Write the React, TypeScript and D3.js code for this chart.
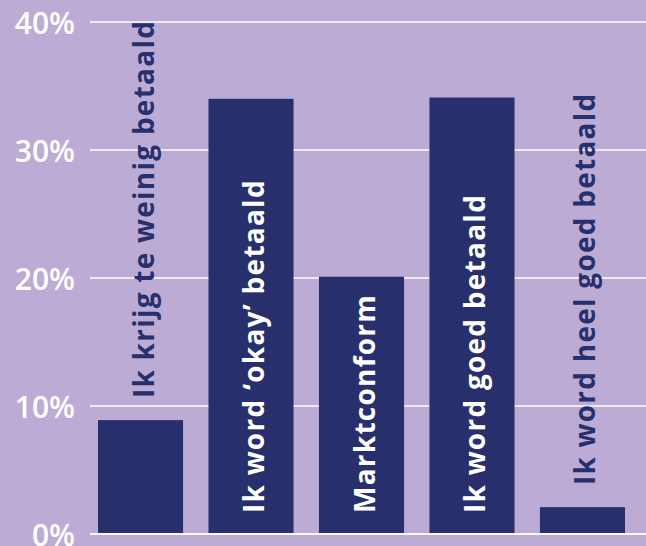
import React from "react";
import * as d3 from "d3";

const categories = [
  "Ik krijg te weinig betaald",
  "Ik word \u2018okay\u2019 betaald",
  "Marktconform",
  "Ik word goed betaald",
  "Ik word heel goed betaald",
];
const values = [8.9, 34.0, 20.1, 34.1, 2.1];
const tickValues = [0, 10, 20, 30, 40];
const tickLabels = ["0%", "10%", "20%", "30%", "40%"];

const W = 646;
const H = 546;
const BG = "#bcabd4";
const NAVY = "#27306d";

export default function App() {
  const y = d3.scaleLinear().domain([0, 40]).range([534, 22]);
  const x = d3
    .scaleBand<string>()
    .domain(categories)
    .range([90, 633])
    .paddingInner(0.23)
    .paddingOuter(0.0724);
  const bw = x.bandwidth();
  const inside = (v: number) => v > 15;

  return (
    <svg
      width={W}
      height={H}
      style={{ position: "absolute", left: 0, top: 0 }}
      fontFamily="'Open Sans', sans-serif"
    >
      <rect width={W} height={H} fill={BG} />
      {tickValues.map((t) => (
        <line key={t} x1={90} x2={W} y1={y(t)} y2={y(t)} stroke="#fff" strokeWidth={1.6} />
      ))}
      {tickValues.map((t, i) => (
        <text
          key={"l" + t}
          x={75}
          y={y(t)}
          textAnchor="end"
          dominantBaseline="central"
          fill="#fff"
          fontSize={30}
          fontWeight={600}
        >
          {tickLabels[i]}
        </text>
      ))}
      {categories.map((c, i) => (
        <rect key={c} x={x(c)} y={y(values[i])} width={bw} height={y(0) - y(values[i]) - 1} fill={NAVY} />
      ))}
      <line x1={90} x2={W} y1={y(0)} y2={y(0)} stroke="#fff" strokeWidth={1.6} />
      {categories.map((c, i) => {
        const v = values[i];
        const cx = (x(c) as number) + bw / 2 + 13;
        const startY = inside(v) ? y(0) - 21 : y(v) - 22;
        return (
          <text
            key={"t" + c}
            transform={`translate(${cx},${startY}) rotate(-90)`}
            fill={inside(v) ? "#fff" : NAVY}
            fontSize={28}
            fontWeight={700}
            letterSpacing={1.25}
          >
            {c}
          </text>
        );
      })}
    </svg>
  );
}
